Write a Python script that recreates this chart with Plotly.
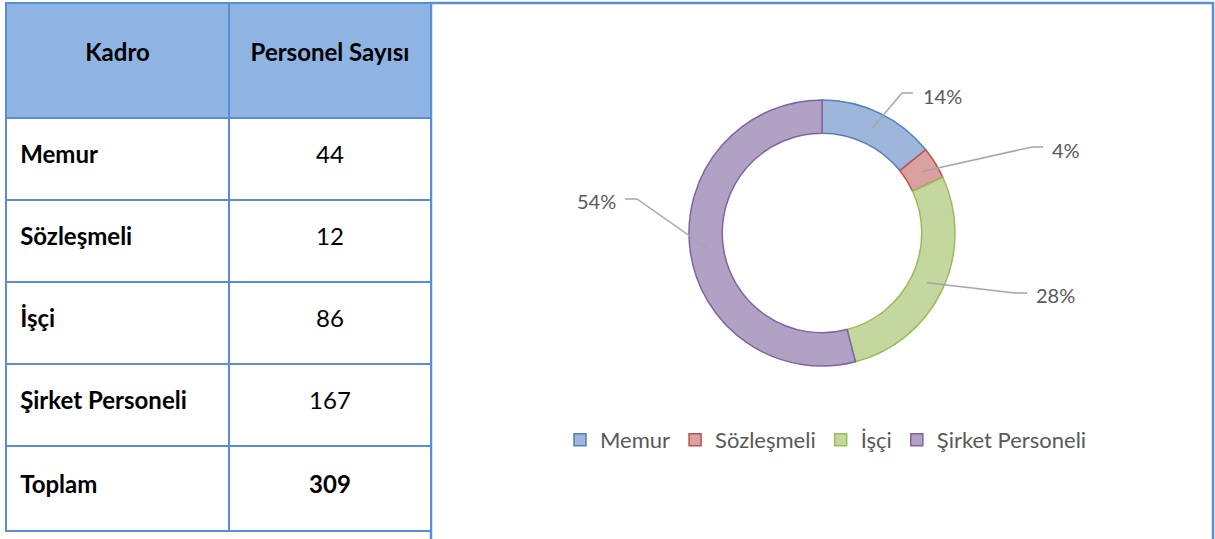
import math
import plotly.graph_objects as go

# ---- data ----
categories = ["Memur", "Sözleşmeli", "İşçi", "Şirket Personeli"]
counts = [44, 12, 86, 167]
header_labels = ["Kadro", "Personel Sayısı"]
total_label = "Toplam"

# ---- style ----
W, H = 1215, 539
FONT = "Lato"
BORDER = "#5B8DD6"
fill_colors = ["#9DB6D9", "#D9A19F", "#C4D79F", "#B0A1C5"]
line_colors = ["#4F81BD", "#C0504D", "#9BBB59", "#8064A2"]
TEXT_GREY = "#595959"
LEADER = "#A6A6A6"
TABLE_FS = 24


def px(x):
    return x / W


def py(y):
    return 1 - y / H


def ghost(size):
    return "<span style='font-size:%spx;color:rgba(0,0,0,0)'>.</span>" % size


def big(s, bold=False, pad="", spacer=10, tail=None):
    inner = "<b>%s</b>" % s if bold else s
    out = "%s<br><span style='font-size:%dpx'>%s%s</span>" % (ghost(spacer), TABLE_FS, pad, inner)
    if tail:
        out += "<br>" + ghost(tail)
    return out


total = sum(counts)

fig = go.Figure()

# ---- table ----
col1 = [big(c, True, "\u00a0") for c in categories] + [big(total_label, True, "\u00a0", 12.5, 21)]
col2 = [big(str(v)) for v in counts] + [big(str(total), True, "", 12.5, 21)]
fig.add_trace(go.Table(
    domain=dict(x=[px(6), px(431)], y=[0, py(3)]),
    columnwidth=[223, 202],
    header=dict(
        values=[big(h, True) for h in header_labels],
        fill_color="#8EB4E3",
        line=dict(color=BORDER, width=2),
        align="center",
        height=115,
        font=dict(family=FONT, size=31, color="black"),
    ),
    cells=dict(
        values=[col1, col2],
        fill_color="white",
        line=dict(color=BORDER, width=2),
        align=["left", "center"],
        height=82,
        font=dict(family=FONT, size=20.5, color="black"),
    ),
))

# ---- donut ----
cx, cy, R = 822, 233, 133
hole = 0.75
fig.add_trace(go.Pie(
    labels=categories,
    values=counts,
    hole=hole,
    sort=False,
    direction="clockwise",
    rotation=0,
    textinfo="none",
    hoverinfo="label+percent",
    marker=dict(colors=fill_colors, line=dict(color=line_colors, width=1.5)),
    domain=dict(x=[px(cx - R), px(cx + R)], y=[py(cy + R), py(cy - R)]),
    showlegend=True,
))

# ---- labels with leader lines ----
label_layout = [
    dict(elbow=(902, 93), end=(913, 93), text=(921, 96), anchor="left"),
    dict(elbow=(1032, 147), end=(1043, 147), text=(1050, 150), anchor="left"),
    dict(elbow=(1015, 293), end=(1027, 293), text=(1034, 295), anchor="left"),
    dict(elbow=(637, 199), end=(625, 199), text=(618, 201), anchor="right"),
]
shapes = []
annotations = []
r_mid = R * (1 + hole) / 2
cum = 0
for v, lay in zip(counts, label_layout):
    theta = 2 * math.pi * (cum + v / 2) / total
    cum += v
    sx = cx + r_mid * math.sin(theta)
    sy = cy - r_mid * math.cos(theta)
    ex, ey = lay["elbow"]
    fx, fy = lay["end"]
    path = "M %f,%f L %f,%f L %f,%f" % (px(sx), py(sy), px(ex), py(ey), px(fx), py(fy))
    shapes.append(dict(type="path", xref="paper", yref="paper", path=path,
                       line=dict(color=LEADER, width=1.5)))
    tx, ty = lay["text"]
    annotations.append(dict(
        x=px(tx), y=py(ty), xref="paper", yref="paper",
        text="%d%%" % round(v / total * 100), showarrow=False,
        xanchor=lay["anchor"], yanchor="middle",
        font=dict(family=FONT, size=20, color=TEXT_GREY),
    ))

# ---- chart panel border ----
shapes.append(dict(type="rect", xref="paper", yref="paper",
                   x0=px(431), x1=px(1213), y0=-0.05, y1=py(3),
                   line=dict(color=BORDER, width=2.5), fillcolor="rgba(0,0,0,0)",
                   layer="below"))

fig.update_layout(
    width=W, height=H,
    margin=dict(l=0, r=0, t=0, b=0),
    paper_bgcolor="white",
    plot_bgcolor="white",
    shapes=shapes,
    annotations=annotations,
    legend=dict(
        orientation="h", x=px(826), xanchor="center", y=py(440), yanchor="middle",
        font=dict(family=FONT, size=22, color=TEXT_GREY),
        itemclick=False,
    ),
)

fig.write_html("out.html", config={"displayModeBar": False},
               post_script="document.body.style.margin='0';document.body.style.padding='0';")
